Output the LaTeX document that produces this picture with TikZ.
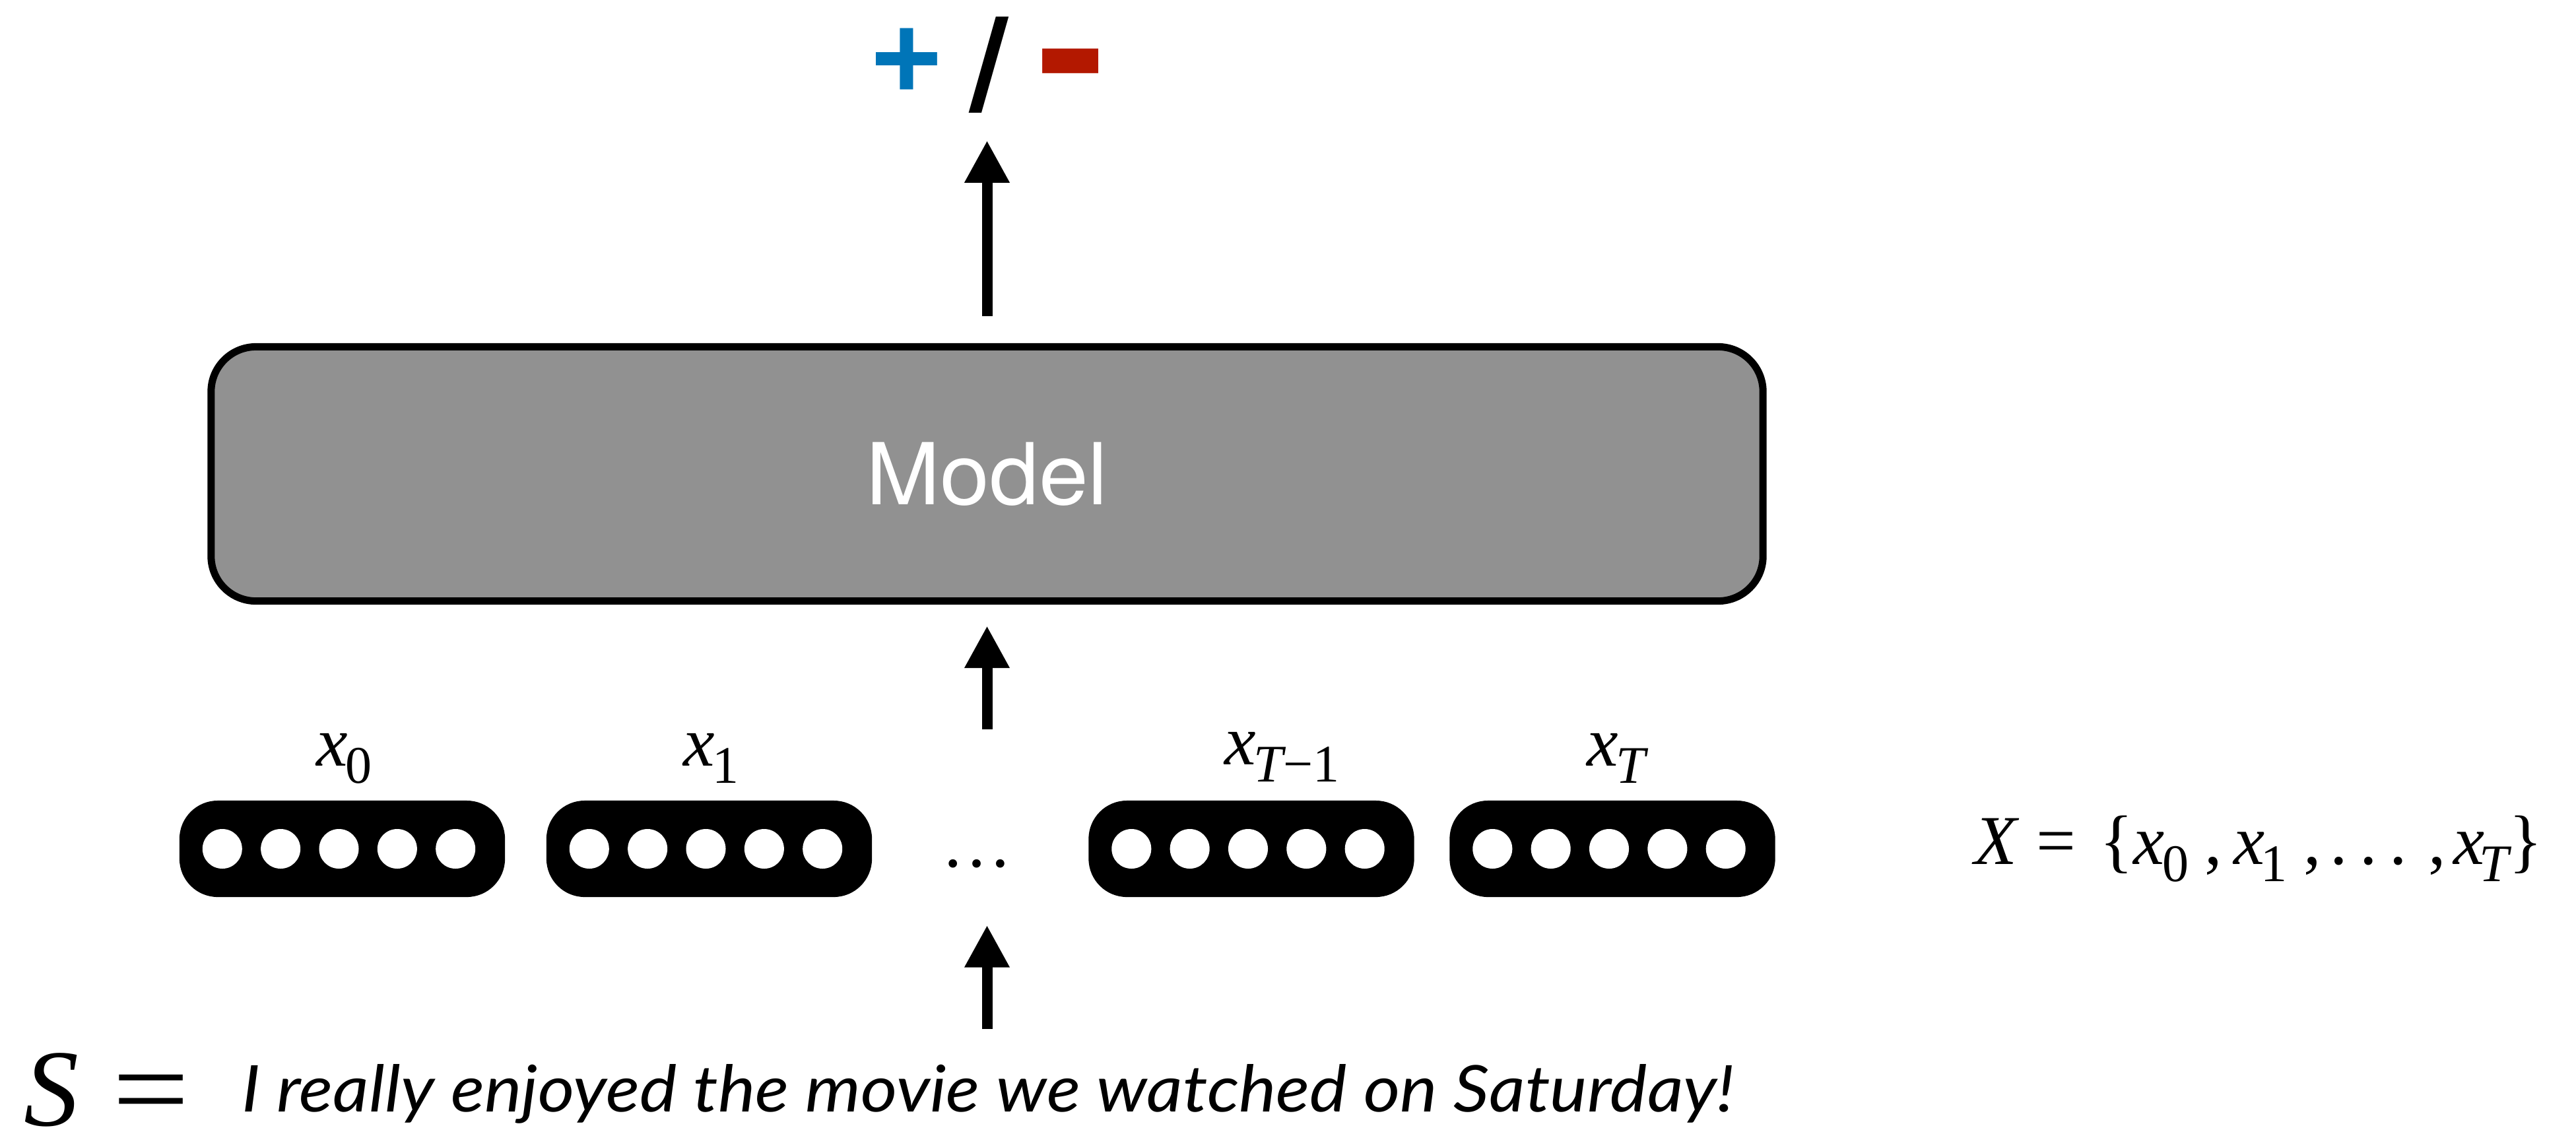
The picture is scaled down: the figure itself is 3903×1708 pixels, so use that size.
\documentclass[tikz,border=0pt]{standalone}
\usepackage{fontspec}
\usepackage{graphicx}
\usetikzlibrary{arrows.meta}
\newfontfamily\tms{Liberation Serif}
\newfontfamily\hv{TeX Gyre Heros}
\newfontfamily\lato{Lato}
\newdimen\pxu \pxu=0.01cm
\definecolor{modelgray}{HTML}{919191}
\definecolor{posblue}{HTML}{0075B8}
\definecolor{negred}{HTML}{B31800}
% token label: italic x with a lowered subscript
\newcommand\xlab[1]{{\tms\fontsize{30.44pt}{30.44pt}\selectfont{\itshape x}\kern-3\pxu\raisebox{-26\pxu}{\fontsize{22.76pt}{22.76pt}\selectfont #1}}}
\newcommand\setsub[1]{\raisebox{-26\pxu}{\fontsize{22.76pt}{22.76pt}\selectfont #1}}
\begin{document}
\begin{tikzpicture}[x=0.01cm,y=-0.01cm,
  txt/.style={inner sep=0,outer sep=0},
  arr/.style={line width=0.16cm,-{Triangle[length=0.64cm,width=0.64cm]}},
  modelbox/.style={draw=black,fill=modelgray,line width=0.11cm,rounded corners=0.68cm,
    minimum width=23.5cm,minimum height=3.85cm,inner sep=0,text=white,
    font=\hv\fontsize{36.8pt}{36.8pt}\selectfont},
  vecbox/.style={fill=black,rounded corners=0.58cm,minimum width=4.93cm,
    minimum height=1.46cm,inner sep=0,outer sep=0},
  cell/.style={circle,fill=white,minimum size=0.6cm,inner sep=0,outer sep=0},
]
\fill[white] (0,0) rectangle (3903,1708);
\useasboundingbox (0,0) rectangle (3903,1708);

% output label
\node[txt,anchor=base,text=posblue] (plus) at (1373.5,139)
  {\hv\bfseries\fontsize{56.9pt}{56.9pt}\selectfont +};
\node[txt,anchor=base] (slash) at (1498,168)
  {\hv\bfseries\fontsize{56.9pt}{56.9pt}\selectfont /};
\node[txt,anchor=base,text=negred] (minus) at (1623.5,168)
  {\hv\bfseries\fontsize{56.9pt}{56.9pt}\selectfont\scalebox{1.56}[1.38]{-}};

% model
\node[modelbox] (model) at (1495.5,718) {\scalebox{1.04}[1]{Model}};

% token vectors
\node[vecbox] (v0) at (518.5,1286) {};
\node[vecbox] (v1) at (1074.5,1286) {};
\node[vecbox] (v2) at (1896,1286) {};
\node[vecbox] (v3) at (2443,1286) {};
\foreach \i in {0,...,3}{
  \foreach \k/\dx in {1/-1.816,2/-0.933,3/-0.05,4/0.833,5/1.716}{
    \node[cell] (v\i c\k) at ([xshift=\dx cm]v\i.center) {};
  }
}
\node[txt,anchor=base west] (l0) at (479,1160) {\xlab{0}};
\node[txt,anchor=base west] (l1) at (1035,1160) {\xlab{1}};
\node[txt,anchor=base west] (l2) at (1855,1158) {\xlab{{\itshape T}−1}};
\node[txt,anchor=base west] (l3) at (2404,1160) {\xlab{\itshape T}};
\node[txt,anchor=base] (dots) at (1480,1313)
  {\tms\fontsize{30.44pt}{30.44pt}\selectfont …};

% sequence definition
\node[txt,anchor=base west] (xset) at (2991.4,1309) {\tms\fontsize{30.16pt}{30.16pt}\selectfont
  {\itshape X}\kern29.6\pxu=\kern36\pxu\{\kern-0.4\pxu{\itshape x}\kern-3\pxu\setsub{0}%
  \kern24\pxu,\kern17.4\pxu{\itshape x}\kern-5.5\pxu\setsub{1}%
  \kern24.5\pxu,\kern14.2\pxu.\kern18.5\pxu.\kern18.5\pxu.\kern31.8\pxu,%
  \kern11.4\pxu{\itshape x}\kern-7.6\pxu\setsub{\itshape T}\kern-0.2\pxu\}};

% input sentence
\node[txt,anchor=base west] (slab) at (36.7,1705)
  {\tms\itshape\fontsize{47.2pt}{47.2pt}\selectfont S};
\node[txt,anchor=base west] (seq) at (170.8,1709)
  {\tms\fontsize{50.4pt}{50.4pt}\selectfont\scalebox{1.17}[1]{=}};
\node[txt,anchor=base west] (sent) at (366,1684)
  {\resizebox{22.6cm}{\height}{\lato\itshape\fontsize{27.8pt}{27.8pt}\selectfont I really enjoyed the movie we watched on Saturday!}};

% connectors
\coordinate (seqtop) at (1495.5,1105);
\coordinate (senttop) at (1495.5,1559);
\draw[arr,shorten <=0.41cm,shorten >=0.42cm] (model.north) -- (model.north |- slash.south);
\draw[arr,shorten >=0.32cm] (seqtop) -- (model.south);
\draw[arr,shorten >=0.934cm] (senttop) -- (senttop |- dots.center);
\end{tikzpicture}
\end{document}
